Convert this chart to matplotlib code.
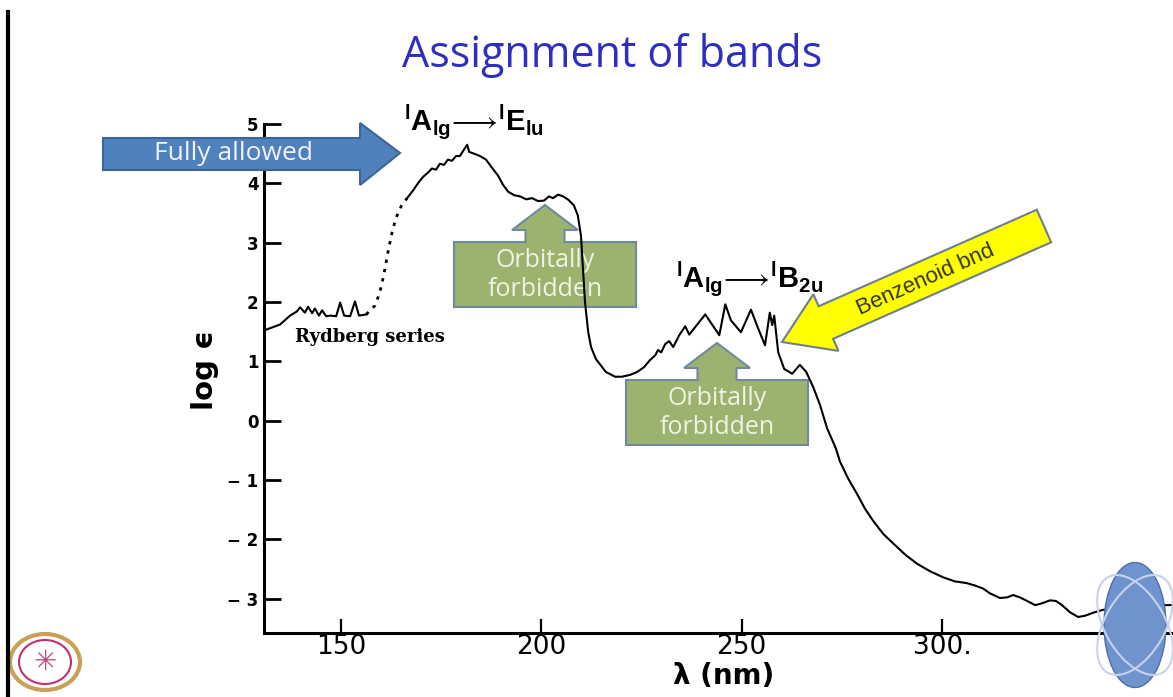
import matplotlib.pyplot as plt
import matplotlib.transforms as mtransforms
from matplotlib.patches import Polygon, Ellipse

plt.rcParams['mathtext.fontset'] = 'custom'
plt.rcParams['mathtext.bf'] = 'Liberation Sans:bold'
plt.rcParams['mathtext.rm'] = 'Liberation Sans'

# benzene absorption spectrum, log(epsilon) vs wavelength (nm)
wl_rydberg = [130.8, 134.8, 137.3, 139.0, 139.8, 141.0, 141.8, 142.8, 143.5, 144.5,
              145.3, 146.3, 147.3, 148.8, 149.8, 150.8, 152.3, 153.5, 154.5, 156.3]
loge_rydberg = [1.52, 1.62, 1.77, 1.84, 1.91, 1.82, 1.92, 1.81, 1.89, 1.77,
                1.86, 1.76, 1.77, 1.76, 1.99, 1.77, 1.76, 2.01, 1.77, 1.79]

# interpolated (dotted) part of the curve
wl_gap = [156.3, 158.5, 159.7, 160.7, 161.7, 162.7, 163.7, 165.0, 166.5]
loge_gap = [1.79, 1.94, 2.16, 2.46, 2.83, 3.16, 3.41, 3.61, 3.75]

wl_main = [166.5, 168.0, 169.2, 170.5, 171.7, 172.7, 173.7, 174.7, 175.7, 176.7,
           177.7, 178.7, 179.7, 180.7, 181.5, 182.0, 183.2, 184.7, 186.2, 187.7,
           189.2, 190.4, 191.7, 193.2, 194.7, 196.2, 197.7, 199.2, 200.7, 201.9,
           202.9, 204.2, 205.4, 206.6, 208.1, 209.1, 209.9, 210.4, 210.9, 211.7,
           212.4, 213.6, 216.1, 218.4, 220.1, 222.1, 223.9, 225.6, 227.1, 228.4,
           229.1, 229.9, 230.9, 231.9, 232.9, 234.4, 235.9, 236.9, 238.9, 240.9,
           242.6, 244.4, 245.9, 247.3, 249.8, 252.3, 254.0, 255.8, 257.0, 257.6,
           258.1, 259.1, 260.6, 262.6, 264.5, 266.1, 267.8, 269.5, 271.3, 273.5,
           274.5, 276.5, 278.8, 280.8, 282.8, 285.3, 287.8, 290.8, 293.7, 297.0,
           300.2, 303.2, 306.2, 308.2, 310.2, 311.9, 314.4, 316.2, 317.7, 319.4,
           321.2, 323.2, 324.9, 326.9, 328.4, 329.9, 331.9, 333.9, 335.6, 337.6,
           340.1, 344.4, 351.9, 357.6]
loge_main = [3.75, 3.88, 4.00, 4.11, 4.18, 4.25, 4.23, 4.33, 4.31, 4.40,
             4.38, 4.46, 4.46, 4.57, 4.65, 4.53, 4.50, 4.46, 4.40, 4.26,
             4.13, 3.98, 3.86, 3.80, 3.78, 3.73, 3.75, 3.70, 3.71, 3.78,
             3.75, 3.81, 3.78, 3.73, 3.63, 3.46, 3.11, 2.54, 1.99, 1.49,
             1.24, 1.04, 0.82, 0.74, 0.74, 0.77, 0.82, 0.90, 1.02, 1.10,
             1.19, 1.15, 1.29, 1.34, 1.24, 1.44, 1.59, 1.45, 1.62, 1.79,
             1.62, 1.44, 1.96, 1.69, 1.49, 1.87, 1.57, 1.27, 1.82, 1.61,
             1.77, 1.15, 0.87, 0.79, 0.94, 0.82, 0.57, 0.27, -0.13, -0.47,
             -0.69, -0.97, -1.24, -1.49, -1.69, -1.91, -2.07, -2.26, -2.41, -2.54,
             -2.64, -2.71, -2.74, -2.78, -2.83, -2.91, -2.99, -2.98, -2.94, -2.98,
             -3.04, -3.11, -3.08, -3.03, -3.04, -3.11, -3.23, -3.31, -3.29, -3.24,
             -3.19, -3.16, -3.11, -3.11]

x_ticks = [150, 200, 250, 300]
x_tick_labels = ['150', '200', '250', '300.']
y_ticks = [-3, -2, -1, 0, 1, 2, 3, 4, 5]
y_tick_labels = ['\u2212 3', '\u2212 2', '\u2212 1', '0', '1', '2', '3', '4', '5']

W, H = 1173, 697
fig = plt.figure(figsize=(W / 100, H / 100), dpi=100)
ax = fig.add_axes([264 / W, (H - 633) / H, (W - 264) / W, (633 - 124) / H])
ax.set_xlim(130.8, 357.6)
ax.set_ylim(-3.58, 5.0)

ax.plot(wl_rydberg, loge_rydberg, color='black', lw=1.5, zorder=2)
ax.plot(wl_gap, loge_gap, color='black', lw=2.0, ls=(0, (1.2, 2.2)), zorder=2)
ax.plot(wl_main, loge_main, color='black', lw=1.5, zorder=2)

for side in ('top', 'right'):
    ax.spines[side].set_visible(False)
for side in ('left', 'bottom'):
    ax.spines[side].set_linewidth(2.2)
ax.set_xticks(x_ticks)
ax.set_xticklabels(x_tick_labels, fontsize=19)
ax.set_yticks(y_ticks)
ax.set_yticklabels(y_tick_labels, fontsize=12, fontweight='bold')
ax.tick_params(axis='x', direction='in', length=10, width=1.6, pad=1)
ax.tick_params(axis='y', direction='in', length=12, width=2.0, pad=4)

# pixel-space transform for the slide decorations (origin top-left)
px = mtransforms.Affine2D().scale(1 / 100, -1 / 100).translate(0, H / 100) + fig.dpi_scale_trans


def add_poly(points, face, edge, z):
    ax.add_patch(Polygon(points, closed=True, facecolor=face, edgecolor=edge,
                         lw=1.5, transform=px, clip_on=False, zorder=z))


def up_callout(cx, ay):
    return [(cx, ay), (cx + 33, ay + 25), (cx + 19.5, ay + 25), (cx + 19.5, ay + 37),
            (cx + 91, ay + 37), (cx + 91, ay + 102), (cx - 91, ay + 102),
            (cx - 91, ay + 37), (cx - 19.5, ay + 37), (cx - 19.5, ay + 25),
            (cx - 33, ay + 25)]


# "Fully allowed" block arrow
add_poly([(103, 138), (360, 138), (360, 123), (400, 153), (360, 185), (360, 170), (103, 170)],
         '#4F81BD', '#3A6595', 3)
ax.text(233, 153, 'Fully allowed', transform=px, fontsize=19, color='#EEF2F8',
        family='Open Sans', ha='center', va='center', zorder=3.5)

# orbitally forbidden callouts
for cx, ay in [(545, 205), (717, 343)]:
    add_poly(up_callout(cx, ay), '#9BB36F', '#6F8AA0', 1.5)
    ax.text(cx, ay + 70, 'Orbitally\nforbidden', transform=px, fontsize=18,
            color='#EEF3E4', family='Open Sans', ha='center', va='center',
            linespacing=1.2, zorder=1.6)

# benzenoid band arrow
tip = (782, 342)
tail = (1044, 226)
dx, dy = tail[0] - tip[0], tail[1] - tip[1]
length = (dx ** 2 + dy ** 2) ** 0.5
ux, uy = dx / length, dy / length
nx, ny = -uy, ux
head_len, head_hw, body_hw = 48, 31, 17.8
bx, by = tip[0] + ux * head_len, tip[1] + uy * head_len
arrow_pts = [tip,
             (bx + nx * head_hw, by + ny * head_hw),
             (bx + nx * body_hw, by + ny * body_hw),
             (tail[0] + nx * body_hw, tail[1] + ny * body_hw),
             (tail[0] - nx * body_hw, tail[1] - ny * body_hw),
             (bx - nx * body_hw, by - ny * body_hw),
             (bx - nx * head_hw, by - ny * head_hw)]
add_poly(arrow_pts, '#FFFF00', '#6E7F8E', 3)
ax.text(926, 280, 'Benzenoid bnd', transform=px, fontsize=16, color='#333333',
        family='Liberation Sans', rotation=23.9, rotation_mode='anchor',
        ha='center', va='center', zorder=3.5)

# transition labels
ax.text(404, 131, r'$^{\mathbf{l}}\mathbf{A}_{\mathbf{lg}}\!\longrightarrow\!{}^{\mathbf{l}}\mathbf{E}_{\mathbf{lu}}$',
        transform=px, fontsize=21, ha='left', va='baseline', zorder=3)
ax.text(676, 288, r'$^{\mathbf{l}}\mathbf{A}_{\mathbf{lg}}\!\longrightarrow\!{}^{\mathbf{l}}\mathbf{B}_{\mathbf{2u}}$',
        transform=px, fontsize=21, ha='left', va='baseline', zorder=3)
ax.text(370, 337, 'Rydberg series', transform=px, fontsize=13, fontweight='bold',
        family='DejaVu Serif', ha='center', va='center', zorder=3)

# axis titles
ax.text(205, 370, 'log \u03f5', transform=px, fontsize=21, fontweight='bold',
        rotation=90, ha='center', va='center')
ax.text(724, 676, '\u03bb (nm)', transform=px, fontsize=20, fontweight='bold',
        ha='center', va='center')

fig.text(612 / W, 1 - 55 / H, 'Assignment of bands', fontsize=31, color='#2F2FBF',
         family='Open Sans', ha='center', va='center')

# slide border and logos
fig.add_artist(plt.Line2D([8 / W, 8 / W], [0, 1 - 12 / H], color='black', lw=3))
ax.add_patch(Ellipse((45, 662), 70, 56, transform=px, clip_on=False, fill=False,
                     edgecolor='#C9A055', lw=3, zorder=4))
ax.add_patch(Ellipse((45, 662), 52, 44, transform=px, clip_on=False, fill=False,
                     edgecolor='#C03070', lw=1.5, zorder=4))
ax.text(45, 662, '\u2733', transform=px, fontsize=20, color='#C05080',
        ha='center', va='center', zorder=4)
ax.add_patch(Ellipse((1135, 625), 62, 125, transform=px, clip_on=False,
                     facecolor='#6F93CC', edgecolor='#4A6FB0', lw=1, zorder=4))
ax.add_patch(Ellipse((1135, 625), 110, 60, angle=60, transform=px, clip_on=False,
                     fill=False, edgecolor='#C8D2EE', lw=1.5, zorder=4))
ax.add_patch(Ellipse((1135, 625), 110, 60, angle=-60, transform=px, clip_on=False,
                     fill=False, edgecolor='#C8D2EE', lw=1.5, zorder=4))

fig.savefig('out.png', dpi=100)
